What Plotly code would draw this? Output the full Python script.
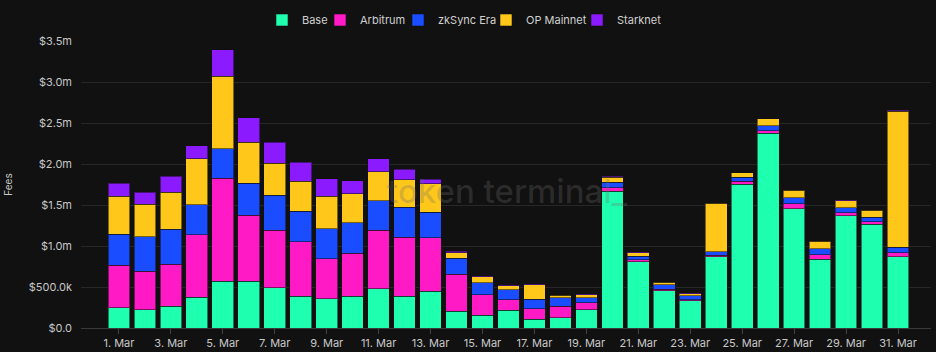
import plotly.graph_objects as go

days = [f"{d}. Mar" for d in range(1, 32)]
tick_days = [f"{d}. Mar" for d in range(1, 32, 2)]

base = [0.244, 0.223, 0.263, 0.378, 0.568, 0.568, 0.488, 0.385, 0.354, 0.385,
        0.476, 0.385, 0.446, 0.202, 0.154, 0.215, 0.105, 0.126, 0.223, 1.666,
        0.809, 0.455, 0.333, 0.866, 1.756, 2.378, 1.455, 0.841, 1.366, 1.263, 0.870]
arbitrum = [0.524, 0.467, 0.517, 0.761, 1.261, 0.805, 0.702, 0.667, 0.488, 0.524,
            0.715, 0.724, 0.655, 0.456, 0.249, 0.127, 0.130, 0.138, 0.082, 0.045,
            0.024, 0.020, 0.010, 0.024, 0.032, 0.028, 0.061, 0.052, 0.037, 0.033, 0.049]
zksync = [0.373, 0.420, 0.422, 0.366, 0.354, 0.395, 0.432, 0.370, 0.370, 0.374,
          0.358, 0.366, 0.313, 0.190, 0.150, 0.126, 0.118, 0.102, 0.061, 0.065,
          0.045, 0.052, 0.049, 0.040, 0.049, 0.061, 0.070, 0.073, 0.065, 0.052, 0.065]
op_mainnet = [0.468, 0.398, 0.456, 0.557, 0.890, 0.495, 0.390, 0.366, 0.394, 0.354,
              0.354, 0.333, 0.345, 0.070, 0.070, 0.049, 0.174, 0.032, 0.040, 0.061,
              0.037, 0.033, 0.028, 0.594, 0.054, 0.082, 0.093, 0.089, 0.082, 0.085, 1.659]
starknet = [0.159, 0.146, 0.190, 0.159, 0.321, 0.301, 0.251, 0.232, 0.212, 0.159,
            0.159, 0.130, 0.057, 0.020, 0.016, 0.012, 0.005, 0.010, 0.012, 0.012,
            0.012, 0.005, 0.004, 0.005, 0.005, 0.004, 0.008, 0.008, 0.005, 0.005, 0.012]

series_names = ["Base", "Arbitrum", "zkSync Era", "OP Mainnet", "Starknet"]
series_values = [base, arbitrum, zksync, op_mainnet, starknet]
series_colors = ["#1EFFAF", "#FF1AC6", "#1A4DFF", "#FFC71A", "#8C1AFF"]

y_ticks = [0, 0.5, 1.0, 1.5, 2.0, 2.5, 3.0, 3.5]
y_ticktext = ["$0.0", "$500.0k", "$1.0m", "$1.5m", "$2.0m", "$2.5m", "$3.0m", "$3.5m"]

# left pixel position of each legend entry (one legend per series)
legend_left_px = [262, 320, 398, 486, 577]

BG = "#111111"
FONT = "Inter, Roboto, sans-serif"

fig = go.Figure()

legend_ids = ["legend"] + [f"legend{i}" for i in range(2, 6)]

for name, vals, col, lid in zip(series_names, series_values, series_colors, legend_ids):
    fig.add_trace(go.Bar(
        x=days, y=vals, name=name, legend=lid, showlegend=True,
        marker=dict(color=col, line=dict(color="rgba(17,17,17,0.55)", width=1)),
    ))

legend_layout = {}
for lid, px in zip(legend_ids, legend_left_px):
    legend_layout[lid] = dict(
        orientation="h", xref="container", x=px / 936, xanchor="left",
        yref="container", y=1 - 20 / 352, yanchor="middle",
        font=dict(size=11, color="#d0d0d0"), itemclick=False,
        bgcolor="rgba(0,0,0,0)",
    )

fig.update_layout(
    width=936, height=352,
    showlegend=True,
    paper_bgcolor=BG, plot_bgcolor=BG,
    margin=dict(l=81, r=5, t=41, b=24, autoexpand=False),
    barmode="stack", bargap=0.165,
    font=dict(family=FONT, color="#c8c8c8", size=11),
    xaxis=dict(
        type="category", automargin=False,
        categoryorder="array", categoryarray=days,
        range=[-1.46, 31.27],
        tickmode="array", tickvals=tick_days, ticktext=tick_days,
        ticks="outside", ticklen=5, tickcolor="#444444",
        showgrid=False, showline=False, zeroline=False,
        tickfont=dict(size=11, color="#c8c8c8"),
    ),
    yaxis=dict(
        range=[0, 3.5], automargin=False,
        tickmode="array", tickvals=y_ticks, ticktext=y_ticktext,
        showgrid=True, gridcolor="#272727", gridwidth=1,
        zeroline=True, zerolinecolor="#3a3a3a", zerolinewidth=1,
        ticks="", ticklabelstandoff=8,
        tickfont=dict(size=11, color="#c8c8c8"),
        title=dict(text="Fees", font=dict(size=10, color="#c8c8c8"), standoff=14),
    ),
    annotations=[dict(
        text="token terminal_", xref="paper", yref="paper",
        x=(507 - 81) / 850, y=(328.3 - 191) / 287.3,
        xanchor="center", yanchor="middle", showarrow=False,
        font=dict(family=FONT, size=33, color="rgba(110,110,110,0.28)", weight=500),
    )],
    **legend_layout,
)

fig.write_html("out.html")
